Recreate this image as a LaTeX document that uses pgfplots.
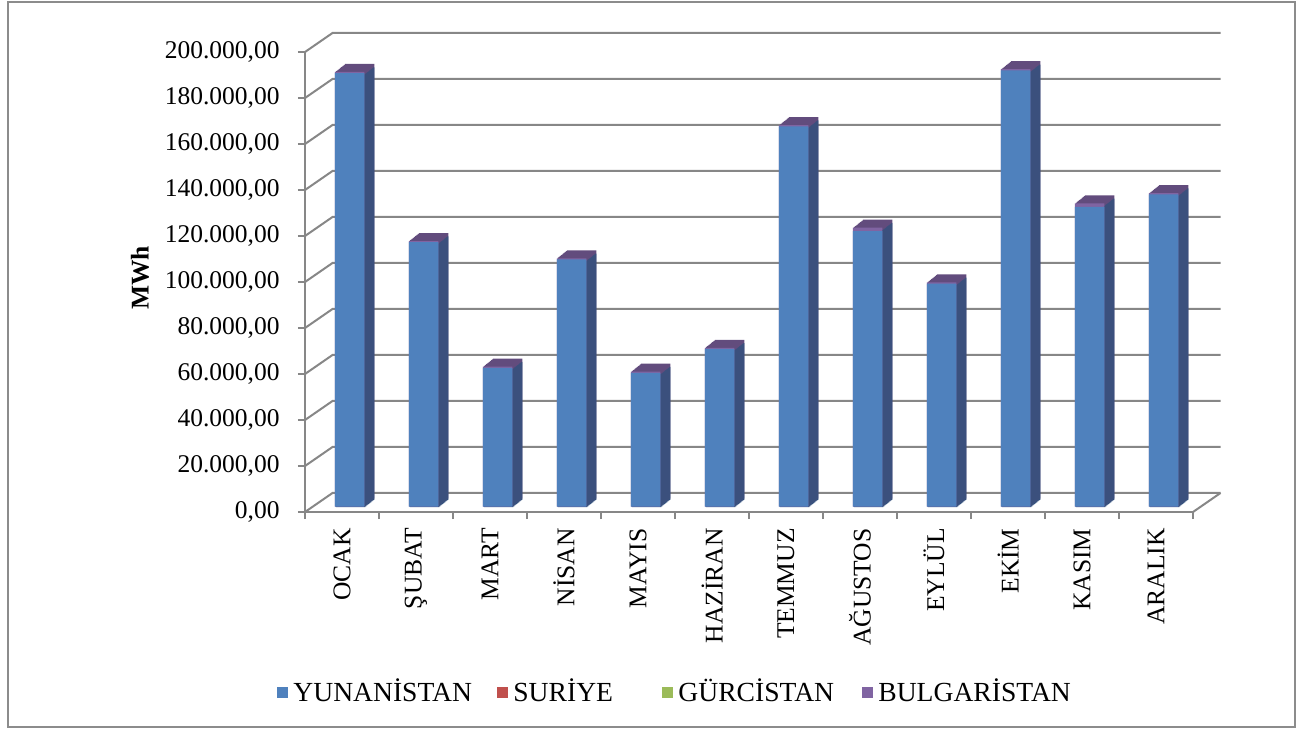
\documentclass[border=0pt]{standalone}
\usepackage{pgfplots}
\pgfplotsset{compat=1.18}
\usepackage{pgfplotstable}
\usepackage{fontspec}
\setmainfont{Liberation Serif}
\definecolor{yun}{HTML}{4F81BD}
\definecolor{yunside}{HTML}{30527D}
\definecolor{bul}{HTML}{8064A2}
\definecolor{bultop}{HTML}{624C7D}
\definecolor{sur}{HTML}{C0504D}
\definecolor{gur}{HTML}{9BBB59}
\definecolor{gridc}{HTML}{878787}
\definecolor{framec}{HTML}{8C8C8C}

\pgfplotstableread{
idx yun    sur gur bul
0   188500 0   0   500
1   115000 0   0   500
2   60400  0   0   500
3   107500 0   0   500
4   58200  0   0   500
5   68600  0   0   500
6   165400 0   0   500
7   119800 0   0   1500
8   97000  0   0   500
9   189700 0   0   500
10  130400 0   0   1500
11  135800 0   0   500
}\data

\newcommand{\lfont}{\fontsize{12.75}{15}\selectfont}
\newcommand{\legfont}{\fontsize{13.8}{16}\selectfont}

\begin{document}
\begin{tikzpicture}
\useasboundingbox (0,0) rectangle (649pt,364.5pt);
\draw[framec, line width=1pt] (4pt,1pt) rectangle (647.5pt,363.5pt);
\begin{axis}[
  at={(152.5pt,108.5pt)}, anchor=south west,
  scale only axis, width=444pt, height=230pt,
  xmin=-0.5, xmax=11.5, ymin=0, ymax=200000,
  clip=false,
  scaled y ticks=false,
  axis x line*=bottom, axis y line*=left,
  axis line style={gridc, line width=1pt, -},
  tick align=outside,
  major tick length=3.5pt, minor tick length=3.5pt,
  ytick={0,20000,40000,60000,80000,100000,120000,140000,160000,180000,200000},
  yticklabels={{0,00},{20.000,00},{40.000,00},{60.000,00},{80.000,00},{100.000,00},{120.000,00},{140.000,00},{160.000,00},{180.000,00},{200.000,00}},
  ytick style={gridc, line width=1pt},
  xtick={0,1,2,3,4,5,6,7,8,9,10,11},
  xticklabels={OCAK,ŞUBAT,MART,NİSAN,MAYIS,HAZİRAN,TEMMUZ,AĞUSTOS,EYLÜL,EKİM,KASIM,ARALIK},
  minor xtick={-0.5,0.5,1.5,2.5,3.5,4.5,5.5,6.5,7.5,8.5,9.5,10.5,11.5},
  every major x tick/.append style={draw=none},
  every minor x tick/.append style={gridc, line width=1pt},
  tick label style={font=\lfont, inner sep=0pt, text=black},
  xticklabel style={rotate=90, anchor=east},
  xticklabel shift=4.5pt,
  yticklabel shift=9pt,
  every axis plot/.append style={ybar, bar width=14.75pt, bar shift=0pt, draw=none, forget plot},
]
% back wall and floor lines
\pgfplotsinvokeforeach{0,20000,40000,60000,80000,100000,120000,140000,160000,180000,200000}{
  \draw[gridc, line width=1pt] (axis cs:-0.5,#1) -- ([shift={(13.75pt,9.5pt)}]axis cs:-0.5,#1) -- ([shift={(13.75pt,9.5pt)}]axis cs:11.5,#1);
}
\draw[gridc, line width=1pt] (axis cs:11.5,0) -- ([shift={(13.75pt,9.5pt)}]axis cs:11.5,0);
% depth of the columns
\pgfplotsinvokeforeach{10,9,8,7,6,5,4,3,2,1}{
  \addplot[fill=bultop, xshift=3.85pt+#1*0.5pt, yshift=2.65pt+#1*0.4pt]
    table[x=idx, y expr=\thisrow{yun}+\thisrow{bul}] {\data};
  \addplot[fill=yunside, xshift=3.85pt+#1*0.5pt, yshift=2.65pt+#1*0.4pt-0.6pt]
    table[x=idx, y expr=\thisrow{yun}+\thisrow{bul}-900] {\data};
}
% front faces
\addplot[fill=bul, xshift=3.85pt, yshift=2.65pt]
  table[x=idx, y expr=\thisrow{yun}+\thisrow{bul}] {\data};
\addplot[fill=yun, xshift=3.85pt, yshift=2.65pt]
  table[x=idx, y=yun] {\data};
\end{axis}
\node[rotate=90, font=\lfont\bfseries] at (70pt,225.5pt) {MWh};
\begin{scope}[font=\legfont]
\fill[yun] (138.5pt,15.25pt) rectangle (144pt,20.75pt);
\node[anchor=base west, inner sep=0pt] at (146.5pt,13.5pt) {YUNANİSTAN};
\fill[sur] (248.5pt,15.25pt) rectangle (254pt,20.75pt);
\node[anchor=base west, inner sep=0pt] at (256.5pt,13.5pt) {SURİYE};
\fill[gur] (331pt,15.25pt) rectangle (336.5pt,20.75pt);
\node[anchor=base west, inner sep=0pt] at (339pt,13.5pt) {GÜRCİSTAN};
\fill[bul] (431pt,15.25pt) rectangle (436.5pt,20.75pt);
\node[anchor=base west, inner sep=0pt] at (439pt,13.5pt) {BULGARİSTAN};
\end{scope}
\end{tikzpicture}
\end{document}
